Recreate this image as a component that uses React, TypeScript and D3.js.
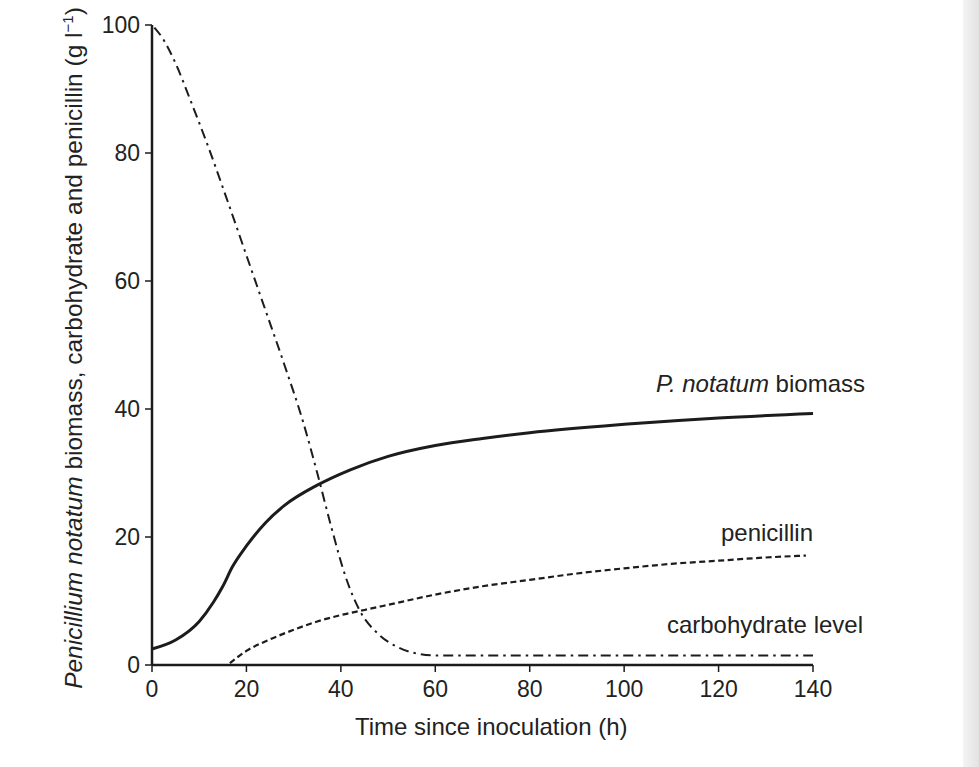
import React from "react";
import * as d3 from "d3";

// values (time in h, concentration in g/l)
const biomassT = [0, 5, 10, 13, 15, 17, 20, 24, 28, 35, 42, 50, 60, 70, 80, 100, 120, 140];
const biomassV = [2.5, 3.9, 6.8, 9.8, 12.3, 15.3, 18.6, 22.2, 24.9, 28.1, 30.5, 32.6, 34.3, 35.4, 36.3, 37.6, 38.6, 39.3];

const carbT = [0.5, 2, 5, 8, 12, 16, 20, 24, 28, 32, 35, 38, 41, 44, 48, 52, 56, 60, 80, 100, 120, 140];
const carbV = [99.6, 98.2, 94, 88.5, 80.8, 72.5, 64, 55.5, 47, 38, 30, 21.5, 13.8, 8.5, 4.8, 2.8, 1.8, 1.5, 1.5, 1.5, 1.5, 1.5];

const penT = [16.5, 20, 25, 30, 35, 40, 45, 50, 60, 70, 80, 90, 100, 110, 120, 130, 138.5];
const penV = [0.3, 2.2, 4.0, 5.5, 6.8, 7.8, 8.6, 9.4, 11, 12.3, 13.3, 14.3, 15.1, 15.8, 16.3, 16.8, 17.1];

const xTicks = [0, 20, 40, 60, 80, 100, 120, 140];
const yTicks = [0, 20, 40, 60, 80, 100];

const W = 979;
const H = 767;
const FONT = "'Liberation Sans', Arial, sans-serif";
const INK = "#1c1c1c";
const TEXT = "#222";

const App = () => {
  const x = d3.scaleLinear().domain([0, 140]).range([152, 813]);
  const y = d3.scaleLinear().domain([0, 100]).range([665, 25]);

  const line = d3
    .line<[number, number]>()
    .x((d) => x(d[0]))
    .y((d) => y(d[1]))
    .curve(d3.curveMonotoneX);

  const pairs = (t: number[], v: number[]) => t.map((d, i) => [d, v[i]] as [number, number]);

  return (
    <div style={{ position: "absolute", left: 0, top: 0 }}>
      <svg width={W} height={H} style={{ display: "block", fontFamily: FONT }}>
        <defs>
          <linearGradient id="edge" x1="0" x2="1" y1="0" y2="0">
            <stop offset="0" stopColor="#f4f4f4" />
            <stop offset="1" stopColor="#e2e2e2" />
          </linearGradient>
        </defs>
        <rect x={0} y={0} width={W} height={H} fill="#fff" />
        <rect x={963} y={0} width={W - 963} height={H} fill="url(#edge)" />

        {/* series */}
        <path d={line(pairs(carbT, carbV)) || ""} fill="none" stroke={INK} strokeWidth={2} strokeDasharray="10,5,2.5,5" />
        <path d={line(pairs(penT, penV)) || ""} fill="none" stroke={INK} strokeWidth={2.2} strokeDasharray="6,3.5" />
        <path d={line(pairs(biomassT, biomassV)) || ""} fill="none" stroke={INK} strokeWidth={3} />

        {/* axes */}
        <line x1={x(0)} x2={x(140)} y1={y(0)} y2={y(0)} stroke={INK} strokeWidth={2.5} />
        <line x1={x(0)} x2={x(0)} y1={y(0)} y2={y(100)} stroke={INK} strokeWidth={2.5} />
        {xTicks.map((t) => (
          <g key={`x${t}`}>
            <line x1={x(t)} x2={x(t)} y1={y(0)} y2={y(0) + 7} stroke={INK} strokeWidth={1.5} />
            <text x={x(t)} y={697} textAnchor="middle" fontSize={23} fill={TEXT}>{t}</text>
          </g>
        ))}
        {yTicks.map((t) => (
          <g key={`y${t}`}>
            <line x1={x(0) - 7} x2={x(0)} y1={y(t)} y2={y(t)} stroke={INK} strokeWidth={1.5} />
            <text x={140} y={y(t)} dy="0.35em" textAnchor="end" fontSize={23} fill={TEXT}>{t}</text>
          </g>
        ))}

        {/* axis titles */}
        <text x={355} y={735} textAnchor="start" fontSize={24} fill={TEXT}>Time since inoculation (h)</text>
        <text transform="translate(82,348) rotate(-90)" textAnchor="middle" fontSize={24.5} fill={TEXT}>
          <tspan fontStyle="italic">Penicillium notatum</tspan>
          <tspan> biomass, carbohydrate and penicillin (g l</tspan>
          <tspan fontSize={15} dy={-9}>−1</tspan>
          <tspan dy={9}>)</tspan>
        </text>

        {/* series labels */}
        <text x={865} y={392} textAnchor="end" fontSize={24} fill={TEXT}>
          <tspan fontStyle="italic">P. notatum</tspan>
          <tspan> biomass</tspan>
        </text>
        <text x={813} y={541} textAnchor="end" fontSize={24} fill={TEXT}>penicillin</text>
        <text x={863} y={633} textAnchor="end" fontSize={24} fill={TEXT}>carbohydrate level</text>
      </svg>
    </div>
  );
};

export default App;
